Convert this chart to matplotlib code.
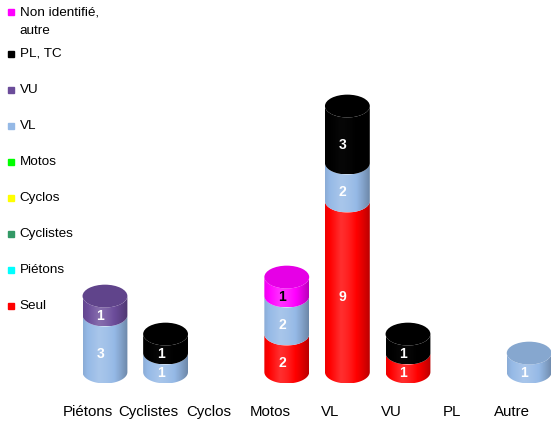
import numpy as np
import matplotlib
matplotlib.use("Agg")
import matplotlib.pyplot as plt
from matplotlib.patches import Polygon, Ellipse
from matplotlib.colors import to_rgb

plt.rcParams['font.family'] = ['Liberation Sans', 'DejaVu Sans']

# categories on the x axis
categories = ["Piétons", "Cyclistes", "Cyclos", "Motos", "VL", "VU", "PL", "Autre"]

# series, stacked from bottom to top
series_names = ["Seul", "Piétons", "Cyclistes", "Cyclos", "Motos", "VL", "VU",
                "PL, TC", "Non identifié,\nautre"]
series_colors = ["#FF0000", "#00FFFF", "#339966", "#FFFF00", "#00FF00", "#95B9E6",
                 "#6B4C9A", "#000000", "#FF00FF"]
seul = [0, 0, 0, 2, 9, 1, 0, 0]
pietons = [0, 0, 0, 0, 0, 0, 0, 0]
cyclistes = [0, 0, 0, 0, 0, 0, 0, 0]
cyclos = [0, 0, 0, 0, 0, 0, 0, 0]
motos = [0, 0, 0, 0, 0, 0, 0, 0]
vl = [3, 1, 0, 2, 2, 0, 0, 1]
vu = [1, 0, 0, 0, 0, 0, 0, 0]
pl_tc = [0, 1, 0, 0, 3, 1, 0, 0]
non_ident = [0, 0, 0, 1, 0, 0, 0, 0]
series = [seul, pietons, cyclistes, cyclos, motos, vl, vu, pl_tc, non_ident]

fig = plt.figure(figsize=(5.51, 4.23), dpi=100)
ax = fig.add_axes([0, 0, 1, 1])
ax.set_xlim(-1.452, 7.64)
ax.set_ylim(-2.68, 19.58)
ax.axis("off")

half_w = 0.37      # cylinder radius (x units)
half_h = 0.6       # ellipse half height (y units)
depth = 0.28       # 3d shift of the cylinders to the right
t = np.linspace(0, np.pi, 60)


def shade(color, k):
    r = np.array(to_rgb(color))
    if k >= 0:
        return r + (1 - r) * k
    return r * (1 + k)


def side(cx, y0, y1, color):
    xs = cx - half_w * np.cos(t)
    bottom = np.column_stack([xs, y0 - half_h * np.sin(t)])
    top = np.column_stack([xs[::-1], y1 - half_h * np.sin(t[::-1])])
    poly = Polygon(np.vstack([bottom, top]), closed=True, fc="none", ec="none")
    ax.add_patch(poly)
    u = np.linspace(0, 1, 80)
    prof = np.where(u < 0.35, 0.18 - 0.25 * (0.35 - u) / 0.35,
                    0.18 - 0.45 * ((u - 0.35) / 0.65) ** 1.5)
    if color == "#000000":
        prof = prof * 0.15
    img = np.array([shade(color, k) for k in prof])
    img = np.clip(img, 0, 1)[None, :, :]
    im = ax.imshow(img, extent=[cx - half_w, cx + half_w, y0 - half_h, y1],
                   aspect="auto", interpolation="bilinear", zorder=2)
    im.set_clip_path(poly)


for i in range(len(categories)):
    cx = i + depth
    base = 0
    top_color = None
    for vals, name, col in zip(series, series_names, series_colors):
        v = vals[i]
        if v == 0:
            continue
        side(cx, base, base + v, col)
        txt_col = "black" if col == "#FF00FF" else "white"
        ax.text(cx - 0.08, base + v / 2 - half_h * 0.9, str(v), color=txt_col,
                fontsize=10, fontweight="bold", ha="center", va="center", zorder=5)
        base += v
        top_color = col
    if top_color is not None:
        cap = shade(top_color, -0.1) if top_color != "#000000" else (0, 0, 0)
        ax.add_patch(Ellipse((cx, base), 2 * half_w, 2 * half_h, fc=cap,
                             ec="none", zorder=3))
    ax.text(i, -2.1, categories[i], fontsize=10.8, ha="center", va="center")

# legend, top to bottom
legend_y = [18.95, 16.74, 14.85, 12.95, 11.06, 9.16, 7.27, 5.37, 3.48]
for name, col, yy in zip(series_names[::-1], series_colors[::-1], legend_y):
    ax.plot(-1.27, yy, marker="s", ms=5, color=col, ls="none")
    if "\n" in name:
        ax.text(-1.125, yy + 0.28, name, fontsize=9.7, ha="left", va="top",
                linespacing=1.75)
    else:
        ax.text(-1.125, yy, name, fontsize=9.7, ha="left", va="center")

fig.savefig("out.png", dpi=100)
